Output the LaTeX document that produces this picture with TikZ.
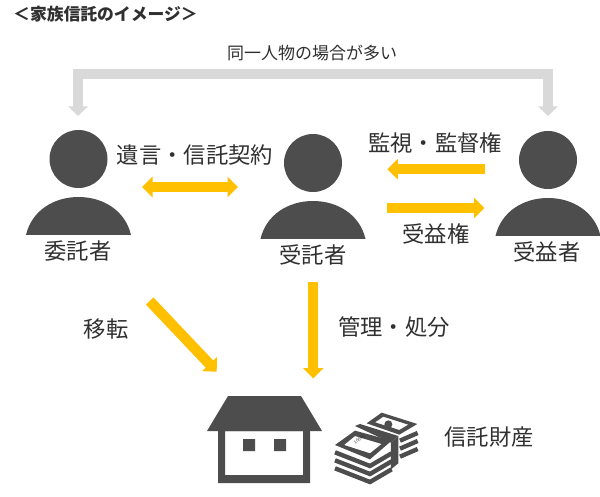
\documentclass[tikz,border=0pt]{standalone}
\usepackage{fontspec}
\setmainfont{Noto Sans CJK JP}
\usetikzlibrary{arrows.meta}
\definecolor{icon}{HTML}{4D4D4D}
\definecolor{gold}{HTML}{FFC000}
\definecolor{pale}{HTML}{D9D9D9}
\definecolor{ink}{HTML}{303030}
\tikzset{
  lab/.style={text=ink,inner sep=0pt,font=\fontsize{22.3}{24}\selectfont},
  goldarrow/.style={draw=gold,line width=10.4pt,-{Triangle[length=10.5pt,width=20pt]}},
  goldboth/.style={draw=gold,line width=10.4pt,{Triangle[length=10.5pt,width=20pt]}-{Triangle[length=10.5pt,width=20pt]}},
  palearrow/.style={draw=pale,line width=10pt,line join=miter,{Triangle[length=9.5pt,width=19pt]}-{Triangle[length=9.5pt,width=19pt]}},
  person/.pic={
    \fill[icon] (0,-0.0) circle (29);
    \fill[icon] (-52.5,76) .. controls (-47,52) and (-25,38) .. (0,38) .. controls (25,38) and (47,52) .. (52.5,76) -- cycle;
  }
}
\begin{document}
\begin{tikzpicture}[x=1pt,y=-1pt]
\useasboundingbox (0,0) rectangle (600,497);
\fill[white] (0,0) rectangle (600,497);
% people
\pic at (78.5,159) {person};
\pic at (313,163) {person};
\pic at (548,160) {person};
% anchors
\coordinate (settlorTop) at (78,116);
\coordinate (benefTop) at (548,116);
\coordinate (a1) at (142,187);
\coordinate (a2) at (238,187);
\coordinate (b1) at (484.5,169.2);
\coordinate (b2) at (387.3,169.2);
\coordinate (c1) at (387,208);
\coordinate (c2) at (484.5,208);
\coordinate (d1) at (149.7,301);
\coordinate (d2) at (216.7,371.7);
\coordinate (e1) at (313.2,281.7);
\coordinate (e2) at (313.2,378.5);
% connectors
\draw[palearrow] (settlorTop) -- (78,74) -- (548,74) -- (benefTop);
\draw[goldboth] (a1) -- (a2);
\draw[goldarrow] (b1) -- (b2);
\draw[goldarrow] (c1) -- (c2);
\draw[goldarrow] (d1) -- (d2);
\draw[goldarrow] (e1) -- (e2);
% house
\fill[icon] (228,396) -- (301,396) -- (322,431) -- (207,431) -- cycle;
\fill[icon,even odd rule] (218,431) rectangle (310,483) (225,431) rectangle (303,475);
\fill[icon] (243,439) rectangle (255,451) (274,439) rectangle (286,451);
% money
\begin{scope}[shift={(320,400)},x=0.3333pt,y=-0.3333pt]
  \foreach \d in {0,24,48}{
    \draw[icon,line width=4.4pt,line join=miter] (45,\the\numexpr 157+\d\relax) -- (150,\the\numexpr 198+\d\relax) -- (215,\the\numexpr 160+\d\relax);
  }
  \foreach \d in {0,24,48}{
    \draw[icon,line width=4.4pt] (240,\the\numexpr 122+\d\relax) -- (293,\the\numexpr 99+\d\relax);
  }
  \fill[icon,even odd rule] (45,135) -- (105,92) -- (215,122) -- (150,178) -- cycle
     (72,135) -- (105,108) -- (185,132) -- (150,160) -- cycle;
  \fill[icon,even odd rule] (140,70) -- (185,38) -- (292,72) -- (238,104) -- cycle
     (165,67) -- (190,50) -- (265,74) -- (238,90) -- cycle;
  \fill[icon] (205,73) circle (12);
  \fill[icon] (183,83) .. controls (190,72) and (215,76) .. (226,94) -- cycle;
  \fill[icon] (213,128) -- (235,108) -- (235,190) -- (213,208) -- cycle;
  \fill[icon] (105,78) -- (120,72) -- (235,108) -- (213,128) -- cycle;
  \node[rotate=38,text=ink,inner sep=0pt,font=\fontsize{4.5}{5}\selectfont] at (118,118) {10000};
\end{scope}
% labels
\node[anchor=west,text=ink,inner sep=0pt,font=\fontsize{16.8}{18}\selectfont\bfseries] (title) at (13,14.5) {＜家族信託のイメージ＞};
\node[text=ink,inner sep=0pt,font=\fontsize{17}{20}\selectfont] (same) at (312,53) {同一人物の場合が多い};
\node[lab] (will) at (195,155) {遺言・信託契約};
\node[lab] (monitor) at (435,143) {監視・監督権};
\node[lab] (right) at (436,234) {受益権};
\node[lab] (p1) at (78,251) {委託者};
\node[lab] (p2) at (313,255) {受託者};
\node[lab] (p3) at (547,252) {受益者};
\node[lab] (move) at (106,329) {移転};
\node[lab] (manage) at (394,327) {管理・処分};
\node[lab] (asset) at (489,437) {信託財産};
\end{tikzpicture}
\end{document}
